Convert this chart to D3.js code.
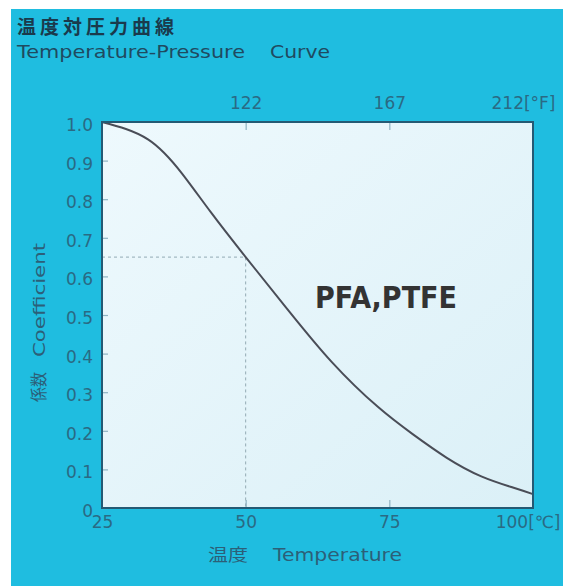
<!DOCTYPE html>
<html>
<head>
<meta charset="utf-8">
<script src="https://cdn.jsdelivr.net/npm/d3@7"></script>
<style>
  body { margin: 0; background: #fff; }
  text { font-family: "DejaVu Sans", "Noto Sans CJK JP", sans-serif; }
</style>
</head>
<body>
<div id="chart"></div>
<script>
// data (temperature in C, coefficient)
var temps = [25, 33, 39, 44, 50, 57, 65, 73, 79, 85, 91, 96.5, 100];
var coefs = [1.0, 0.955, 0.865, 0.765, 0.65, 0.52, 0.378, 0.262, 0.192, 0.13, 0.082, 0.053, 0.036];
var cTicks = [25, 50, 75, 100];
var fTicks = [122, 167, 212];
var yTicks = [0, 0.1, 0.2, 0.3, 0.4, 0.5, 0.6, 0.7, 0.8, 0.9, 1.0];
var marker = {t: 50, c: 0.65};

var svgWidth = 563;
var svgHeight = 587;
var margin = {top: 122, right: 30, bottom: 79, left: 102};
var width = svgWidth - margin.left - margin.right;
var height = svgHeight - margin.top - margin.bottom;

var svg = d3.select("#chart").append("svg")
  .attr("width", svgWidth)
  .attr("height", svgHeight);

// blue panel
svg.append("rect")
  .attr("x", 11).attr("y", 9)
  .attr("width", svgWidth - 11).attr("height", svgHeight - 10)
  .attr("fill", "#1fbde0");

var defs = svg.append("defs");
var grad = defs.append("linearGradient").attr("id", "bg")
  .attr("x1", "0").attr("y1", "0").attr("x2", "1").attr("y2", "1");
grad.append("stop").attr("offset", "0").attr("stop-color", "#eef9fd");
grad.append("stop").attr("offset", "1").attr("stop-color", "#dbf0f7");

// titles
svg.append("text").attr("x", 17).attr("y", 34)
  .attr("font-size", 19).attr("letter-spacing", 4)
  .attr("fill", "#1a3a4c").attr("font-weight", "bold")
  .text("温度対圧力曲線");
svg.append("text").attr("x", 17).attr("y", 58)
  .attr("font-size", 17).attr("fill", "#1f4a60")
  .attr("textLength", 228).attr("lengthAdjust", "spacingAndGlyphs")
  .text("Temperature-Pressure");
svg.append("text").attr("x", 270).attr("y", 58)
  .attr("font-size", 17).attr("fill", "#1f4a60")
  .attr("textLength", 60).attr("lengthAdjust", "spacingAndGlyphs")
  .text("Curve");

var chartGroup = svg.append("g")
  .attr("transform", `translate(${margin.left}, ${margin.top})`);

chartGroup.append("rect")
  .attr("width", width).attr("height", height)
  .attr("fill", "url(#bg)");

// scales
var xScale = d3.scaleLinear().domain([25, 100]).range([0, width]);
var fScale = d3.scaleLinear().domain([77, 212]).range([0, width]);
var yScale = d3.scaleLinear().domain([0, 1]).range([height, 0]);

// axes
var yAxis = d3.axisLeft(yScale).tickValues(yTicks).tickSize(-6).tickPadding(9)
  .tickFormat(d => d === 0 ? "0" : d3.format(".1f")(d));
var xAxis = d3.axisBottom(xScale).tickValues(cTicks).tickSize(-8).tickPadding(8)
  .tickFormat(d => d === 100 ? "100[℃]" : d);
var topAxis = d3.axisTop(fScale).tickValues(fTicks).tickSize(-8).tickPadding(13)
  .tickFormat(d => d === 212 ? "212[°F]" : d);

function styleAxis(g) {
  g.select(".domain").remove();
  g.selectAll("line").attr("stroke", "#8fb3c2").attr("stroke-width", 1.2);
  g.selectAll("text").attr("fill", "#2a6a84").attr("font-size", 17)
    .attr("font-family", "DejaVu Sans, sans-serif");
}

var gy = chartGroup.append("g").call(yAxis).call(styleAxis);
gy.selectAll("text").attr("dy", "0.5em");

var gx = chartGroup.append("g").attr("transform", `translate(0, ${height})`)
  .call(xAxis).call(styleAxis);
gx.selectAll(".tick").filter(d => d === 100).select("text")
  .attr("text-anchor", "end").attr("dx", 27);
gx.selectAll(".tick").filter(d => d === 25 || d === 100).select("line").remove();

var gt = chartGroup.append("g").call(topAxis).call(styleAxis);
gt.selectAll(".tick").filter(d => d === 212).select("text")
  .attr("text-anchor", "end").attr("dx", 22);
gt.selectAll(".tick").filter(d => d === 212).select("line").remove();

// dashed marker
chartGroup.append("path")
  .attr("d", `M0,${yScale(marker.c)}H${xScale(marker.t)}V${height}`)
  .attr("fill", "none")
  .attr("stroke", "#93aab4")
  .attr("stroke-width", 1)
  .attr("stroke-dasharray", "3,3");

// curve
var line = d3.line()
  .x((d, i) => xScale(temps[i]))
  .y(d => yScale(d))
  .curve(d3.curveNatural);

chartGroup.append("path")
  .datum(coefs)
  .attr("d", line)
  .attr("fill", "none")
  .attr("stroke", "#4a4d57")
  .attr("stroke-width", 2);

// frame
chartGroup.append("rect")
  .attr("width", width).attr("height", height)
  .attr("fill", "none")
  .attr("stroke", "#245a74")
  .attr("stroke-width", 2);

chartGroup.append("text")
  .attr("x", 213).attr("y", 186)
  .attr("font-size", 30).attr("font-weight", "bold")
  .attr("font-family", "Liberation Sans, Arial, sans-serif")
  .attr("fill", "#333")
  .attr("textLength", 142).attr("lengthAdjust", "spacingAndGlyphs")
  .text("PFA,PTFE");

// axis titles
var yLab = svg.append("g").attr("transform", "translate(45, 0) rotate(-90)");
yLab.append("text").attr("x", -402).attr("y", 0)
  .attr("font-size", 17).attr("fill", "#2c5f78")
  .attr("textLength", 30).attr("lengthAdjust", "spacingAndGlyphs")
  .text("係数");
yLab.append("text").attr("x", -357).attr("y", 0)
  .attr("font-size", 16).attr("fill", "#2c5f78")
  .attr("textLength", 114).attr("lengthAdjust", "spacingAndGlyphs")
  .text("Coefficient");

svg.append("text").attr("x", 208).attr("y", 561)
  .attr("font-size", 17).attr("fill", "#2c5f78")
  .attr("textLength", 40).attr("lengthAdjust", "spacingAndGlyphs")
  .text("温度");
svg.append("text").attr("x", 273).attr("y", 561)
  .attr("font-size", 17).attr("fill", "#2c5f78")
  .attr("textLength", 129).attr("lengthAdjust", "spacingAndGlyphs")
  .text("Temperature");
</script>
</body>
</html>
